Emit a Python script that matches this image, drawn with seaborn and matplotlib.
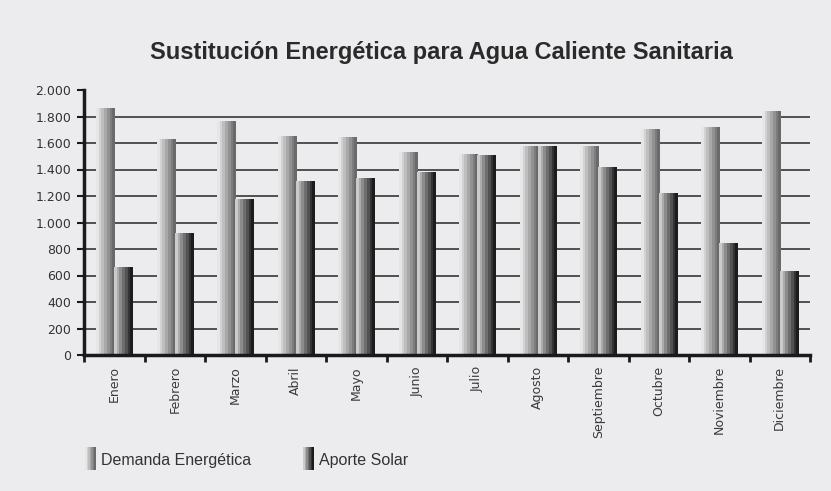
import numpy as np
import pandas as pd
import seaborn as sns
import matplotlib.pyplot as plt
from matplotlib.ticker import FuncFormatter, MultipleLocator

meses = ['Enero', 'Febrero', 'Marzo', 'Abril', 'Mayo', 'Junio', 'Julio',
         'Agosto', 'Septiembre', 'Octubre', 'Noviembre', 'Diciembre']
demanda = [1860, 1630, 1765, 1652, 1645, 1525, 1516, 1577, 1577, 1703, 1718, 1841]
aporte = [662, 918, 1170, 1312, 1335, 1381, 1509, 1577, 1416, 1220, 843, 632]
series = ['Demanda Energética', 'Aporte Solar']
yticks = [0, 200, 400, 600, 800, 1000, 1200, 1400, 1600, 1800, 2000]

# stripes of grey, light on the left, dark on the right
grad_demanda = ['#e6e6e6', '#d2d2d2', '#bebebe', '#a8a8a8', '#929292', '#7c7c7c', '#6a6a6a']
grad_aporte = ['#cbcbcb', '#ababab', '#8c8c8c', '#6e6e6e', '#525252', '#333333', '#1c1c1c']

df = pd.DataFrame({
    'mes': meses * 2,
    'serie': [series[0]] * 12 + [series[1]] * 12,
    'valor': demanda + aporte,
})

bg = '#ececee'
sns.set_style('white')
plt.rcParams['font.family'] = ['DejaVu Sans']

fig = plt.figure(figsize=(8.31, 4.91), dpi=100, facecolor=bg)
ax = fig.add_axes([84 / 831, 1 - 355 / 491, (810 - 84) / 831, (355 - 90) / 491])
ax.set_facecolor(bg)

sns.barplot(data=df, x='mes', y='valor', hue='serie', hue_order=series,
            palette=['#a0a0a0', '#555555'], width=0.6, gap=0,
            linewidth=0, legend=False, ax=ax, zorder=2)


def to_rgb(cols):
    return np.array([[plt.matplotlib.colors.to_rgb(c) for c in cols]])


for cont, grad in zip(ax.containers, [grad_demanda, grad_aporte]):
    img = to_rgb(grad)
    for p in cont:
        x, w, h = p.get_x(), p.get_width(), p.get_height()
        ax.imshow(img, extent=[x, x + w, 0, h], aspect='auto',
                  interpolation='nearest', zorder=3)

ax.set_xlim(-0.5, 11.5)
ax.set_ylim(0, 2000)
ax.set_yticks(yticks)
ax.yaxis.set_major_formatter(FuncFormatter(lambda v, pos: f'{int(v):,}'.replace(',', '.')))

# horizontal grid lines, none at 0 or 2000
for v in yticks[1:-1]:
    ax.axhline(v, color='#444444', lw=1.3, zorder=1)

ax.set_xlabel('')
ax.set_ylabel('')
ax.set_xticks(range(12))
ax.set_xticklabels(meses, rotation=90, fontsize=9, color='#3a3a3a')
ax.xaxis.set_minor_locator(MultipleLocator(1, offset=0.5))
ax.tick_params(axis='x', which='major', bottom=True, length=0, pad=8)
ax.tick_params(axis='x', which='minor', bottom=True, length=5, width=2,
               color='#1a1a1a', direction='out')
ax.tick_params(axis='y', left=True, length=5, width=1.5, color='#1a1a1a',
               direction='out', labelsize=9, labelcolor='#333333', pad=4)

for s in ['top', 'right']:
    ax.spines[s].set_visible(False)
for s in ['left', 'bottom']:
    ax.spines[s].set_color('#1a1a1a')
    ax.spines[s].set_linewidth(2.5)
    ax.spines[s].set_zorder(5)

fig.text(441 / 831, 1 - 53 / 491, 'Sustitución Energética para Agua Caliente Sanitaria',
         ha='center', va='center', fontsize=17, fontweight='bold',
         family='Liberation Sans', color='#2a2a2a')

# legend swatches with the same stripes
for x0, grad, label in [(85, grad_demanda, series[0]), (303, grad_aporte, series[1])]:
    lax = fig.add_axes([x0 / 831, 1 - 470 / 491, 11 / 831, 23 / 491])
    lax.imshow(to_rgb(grad), aspect='auto', interpolation='nearest')
    lax.axis('off')
    fig.text((x0 + 16) / 831, 1 - 461 / 491, label, ha='left', va='center',
             fontsize=11.5, family='Liberation Sans', color='#333333')

fig.savefig('out.png', dpi=100, facecolor=bg)
